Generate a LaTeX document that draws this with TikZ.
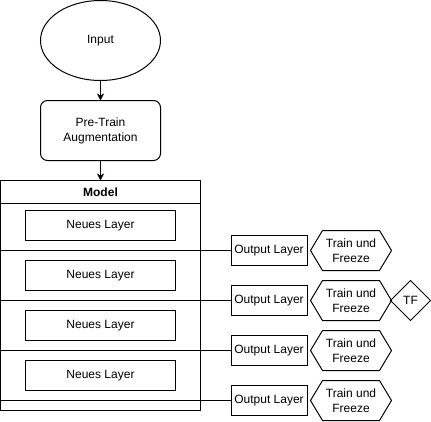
\documentclass[tikz,border=0pt]{standalone}
\usepackage{fontspec}
\setmainfont{Liberation Sans}
\usetikzlibrary{shapes.geometric,arrows.meta}
\begin{document}
\begin{tikzpicture}[x=1pt,y=-1pt,
  every node/.style={font=\fontsize{12}{15}\selectfont, inner sep=0pt, outer sep=0pt, align=center},
  box/.style={draw, line width=1pt, minimum width=150pt, minimum height=30pt},
  outbox/.style={draw, line width=1pt, minimum width=76pt, minimum height=30pt},
  conn/.style={line width=1pt},
  shp/.style={line width=1pt, line join=miter},
  arr/.style={line width=1pt, -{Stealth[length=7pt,width=7pt,inset=2pt]}}
]
\useasboundingbox (-0.5,-0.5) rectangle (430.5,420.5);
% input
\node[draw, line width=1pt, ellipse, minimum width=120pt, minimum height=80pt] (input) at (100,40) {Input};
\node[draw, line width=1pt, rounded corners=7pt, minimum width=120pt, minimum height=60pt] (aug) at (100,130) {Pre-Train\\Augmentation};
% model container
\node[draw, line width=1pt, minimum width=200pt, minimum height=230pt] (model) at (100,295) {};
\coordinate (hl) at (0,203);
\coordinate (hr) at (200,203);
\draw[conn] (hl) -- (hr);
\node[font=\fontsize{12}{15}\selectfont\bfseries] (mtitle) at (100,192) {Model};
\draw[arr] (input) -- (aug);
\draw[arr] (aug) -- (model.north);
% layers
\node[box] (l1) at (100,225) {Neues Layer};
\node[box] (l2) at (100,275) {Neues Layer};
\node[box] (l3) at (100,325) {Neues Layer};
\node[box] (l4) at (100,375) {Neues Layer};
% output layers
\foreach \i/\y in {1/250,2/300,3/350,4/400}{
  \node[outbox] (o\i) at (268.5,\y) {Output Layer};
  \coordinate (s\i) at (0,\y);
  \draw[conn] (s\i) -- (o\i.west);
  \draw[shp] (310,\y) -- (322,\y-20) -- (379,\y-20) -- (391,\y) -- (379,\y+20) -- (322,\y+20) -- cycle;
  \node (t\i) at (350.5,\y) {Train und\\Freeze};
}
% TF diamond
\draw[shp] (390,300) -- (410,280) -- (430,300) -- (410,320) -- cycle;
\node (tf) at (410,300) {TF};
\end{tikzpicture}
\end{document}
